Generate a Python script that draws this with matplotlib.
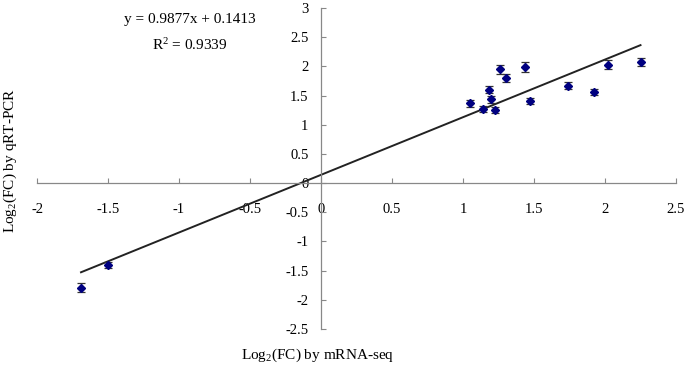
import numpy as np
import matplotlib
matplotlib.use('Agg')
import matplotlib.pyplot as plt

plt.rcParams['font.family'] = ['Liberation Serif', 'DejaVu Serif']
plt.rcParams['mathtext.fontset'] = 'custom'
plt.rcParams['mathtext.rm'] = 'Liberation Serif'
plt.rcParams['mathtext.it'] = 'Liberation Serif:italic'

# log2 fold change: mRNA-seq (x) vs qRT-PCR (y)
mrna_seq = [-1.69, -1.50, 1.05, 1.14, 1.18, 1.195, 1.225, 1.26, 1.30,
            1.44, 1.47, 1.74, 1.925, 2.02, 2.25]
qrt_pcr = [-1.79, -1.40, 1.37, 1.27, 1.60, 1.44, 1.25, 1.95, 1.80,
           1.99, 1.40, 1.67, 1.56, 2.03, 2.07]
qrt_err = [0.07, 0.05, 0.06, 0.05, 0.06, 0.06, 0.05, 0.08, 0.07,
           0.08, 0.05, 0.06, 0.05, 0.08, 0.07]

slope = 0.9877
intercept = 0.1413
r2 = 0.9339

xticks = [-2, -1.5, -1, -0.5, 0, 0.5, 1, 1.5, 2, 2.5]
yticks = [-2.5, -2, -1.5, -1, -0.5, 0, 0.5, 1, 1.5, 2, 2.5, 3]

fig = plt.figure(figsize=(6.85, 3.67), dpi=100)
ax = fig.add_axes([37/685, 38/367, (676-37)/685, (329-8)/367])

# trend line over the data range
xl = np.array([min(mrna_seq), max(mrna_seq)])
ax.plot(xl, slope*xl + intercept, color='#222222', lw=1.4, zorder=2)

ax.errorbar(mrna_seq, qrt_pcr, yerr=qrt_err, fmt='D', color='#000080',
            markersize=4.5, ecolor='#333333', elinewidth=0.9, capsize=3,
            capthick=0.9, zorder=3)

ax.set_xlim(-2, 2.5)
ax.set_ylim(-2.5, 3)
ax.spines['left'].set_position(('data', 0))
ax.spines['bottom'].set_position(('data', 0))
ax.spines['right'].set_visible(False)
ax.spines['top'].set_visible(False)
for s in ['left', 'bottom']:
    ax.spines[s].set_color('#888888')
    ax.spines[s].set_linewidth(0.9)

ax.set_xticks(xticks)
ax.set_yticks(yticks)
ax.set_xticklabels([f'{t:g}' for t in xticks])
ax.set_yticklabels([f'{t:g}' for t in yticks])
ax.tick_params(axis='x', direction='in', length=3.5, color='#888888',
               labelsize=10.5, pad=14)
ax.tick_params(axis='y', direction='in', length=3.5, color='#888888',
               labelsize=10.5, pad=9)

fig.text(10/685, 1 - 160/367, r'Log$_2$(FC) by qRT-PCR', rotation=90,
         ha='center', va='center', fontsize=11)
fig.text(318/685, 1 - 355/367, r'Log$_2$(FC) by mRNA-seq',
         ha='center', va='center', fontsize=11)

fig.text(190/685, 1 - 19/367, f'y = {slope}x + {intercept}',
         ha='center', va='center', fontsize=11)
fig.text(190/685, 1 - 45/367, f'R$^2$ = {r2}',
         ha='center', va='center', fontsize=11)

fig.savefig('out.png', dpi=100)
